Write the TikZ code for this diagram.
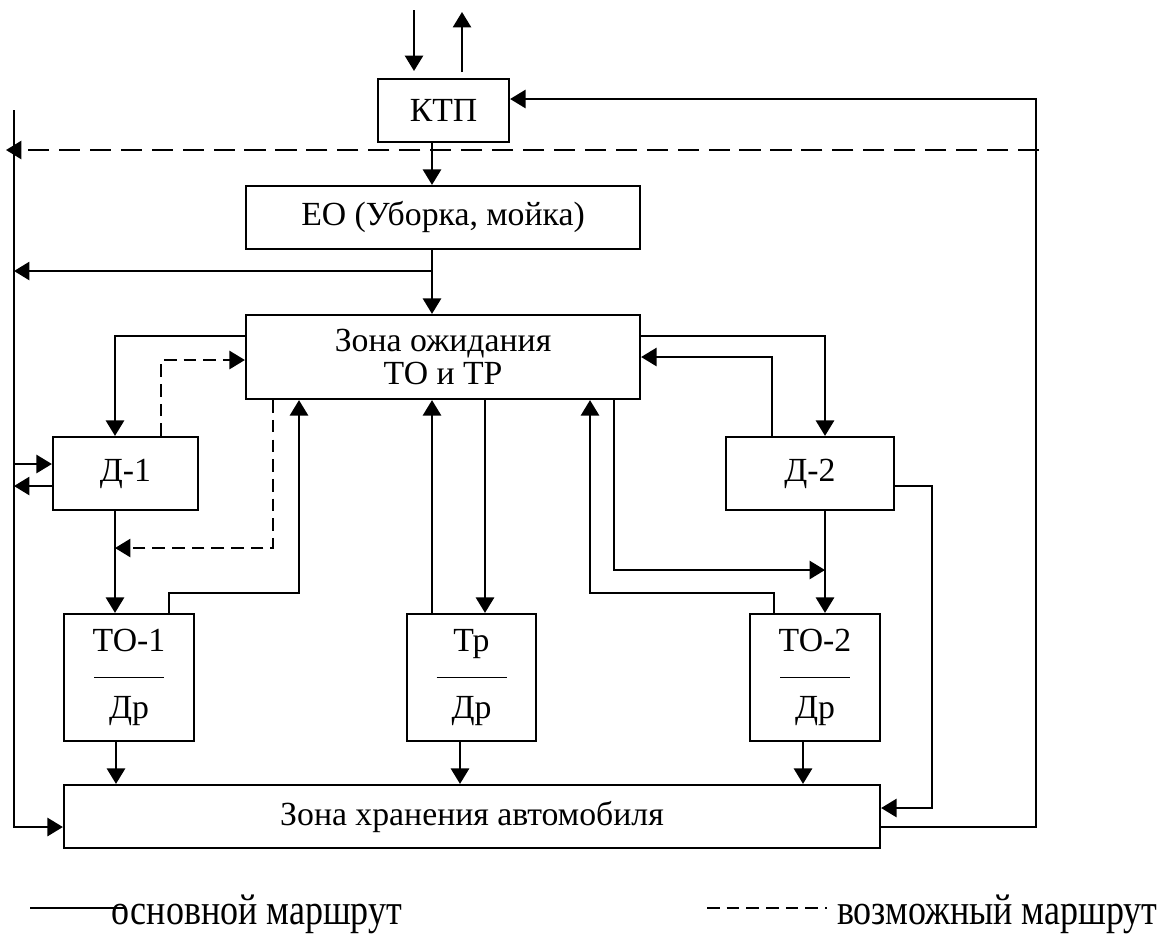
\documentclass[tikz,border=0pt]{standalone}
\usepackage{fontspec}
\setmainfont{Liberation Serif}
\usetikzlibrary{arrows.meta}
\newcommand{\pu}{0.0125cm}

\begin{document}
\begin{tikzpicture}[x=\pu, y=-\pu, >={Triangle[width=6.5pt,length=5.5pt]}, line width=0.7pt,
    blk/.style={draw, line width=0.8pt, inner sep=0pt, font=\fontsize{12}{14}\selectfont},
    split/.style={blk, align=center, font=\fontsize{12}{24}\selectfont},
    maybe/.style={dash pattern=on 4.5pt off 2.5pt},
    lgd/.style={anchor=base west, inner sep=0pt, font=\fontsize{12.8}{15}\selectfont}]
  \useasboundingbox (0,0) rectangle (1173,933);

  % boxes
  \node[blk, minimum width=131*\pu, minimum height=63*\pu] (ktp) at (443.5,110.5) {КТП};
  \node[blk, minimum width=394*\pu, minimum height=63*\pu] (eo) at (443,217.5) {ЕО (Уборка, мойка)};
  \node[blk, minimum width=394*\pu, minimum height=84*\pu, align=center,
        font=\fontsize{12}{11.5}\selectfont] (wait) at (443,357) {Зона ожидания\\ТО и ТР};
  \node[blk, minimum width=145*\pu, minimum height=73*\pu] (d1) at (125.5,473.5) {Д-1};
  \node[blk, minimum width=168*\pu, minimum height=73*\pu] (d2) at (810,473.5) {Д-2};
  \node[split, minimum width=130*\pu, minimum height=127*\pu] (to1) at (129,677.5) {ТО-1\\Др};
  \node[split, minimum width=129*\pu, minimum height=127*\pu] (tr) at (471.5,677.5) {Тр\\Др};
  \node[split, minimum width=130*\pu, minimum height=127*\pu] (to2) at (815,677.5) {ТО-2\\Др};
  \node[blk, minimum width=816*\pu, minimum height=63*\pu] (store) at (472,816.5) {Зона хранения автомобиля};

  \foreach \b in {to1,tr,to2}
    \draw[line width=0.6pt] (\b.center) ++(-35,0) -- ++(70,0);

  % entry and exit
  \coordinate (in1) at (414,10);
  \coordinate (in2) at (414,71);
  \coordinate (out1) at (462,72);
  \coordinate (out2) at (462,12);
  \draw[->] (in1) -- (in2);
  \draw[->] (out1) -- (out2);

  % return line on the right
  \draw[->] (store.east |- 0,827) -| (1036,99) -- (ktp.east |- 0,99);
  \coordinate (dr) at (1039,150);
  \coordinate (dl) at (6,150);
  \draw[->, dash pattern=on 7.5pt off 3.5pt, line width=0.8pt] (dr) -- (dl);

  % left line
  \coordinate (lt) at (14,110);
  \draw[->] (lt) |- (store.west |- 0,827);
  \draw[->] (ktp.south -| 432,0) -- (eo.north -| 432,0);
  \draw[->] (eo.south -| 432,0) -- (wait.north -| 432,0);
  \draw[->] (432,271) -- (14,271);

  % D-1
  \draw[->] (wait.west |- 0,336) -| (d1.north -| 115,0);
  \draw[->, maybe] (d1.north -| 161,0) |- (wait.west |- 0,360);
  \draw[->] (14,464) -- (d1.west |- 0,464);
  \draw[->] (d1.west |- 0,486) -- (14,486);
  \draw[->] (d1.south -| 115,0) -- (to1.north -| 115,0);
  \draw[->, maybe] (wait.south -| 273,0) |- (115,548);
  \draw[->] (to1.north -| 169,0) |- (299,593) -- (wait.south -| 299,0);

  % Tr
  \draw[->] (tr.north -| 432,0) -- (wait.south -| 432,0);
  \draw[->] (wait.south -| 485,0) -- (tr.north -| 485,0);

  % D-2
  \draw[->] (wait.east |- 0,336) -| (d2.north -| 825,0);
  \draw[->] (d2.north -| 772,0) |- (wait.east |- 0,357);
  \draw[->] (d2.south -| 825,0) -- (to2.north -| 825,0);
  \draw[->] (wait.south -| 614,0) |- (825,570);
  \draw[->] (to2.north -| 774,0) |- (590,593) -- (wait.south -| 590,0);
  \draw[->] (d2.east |- 0,486) -| (932,808) -- (store.east |- 0,808);

  % to storage
  \draw[->] (to1.south -| 116,0) -- (store.north -| 116,0);
  \draw[->] (tr.south -| 460,0) -- (store.north -| 460,0);
  \draw[->] (to2.south -| 803,0) -- (store.north -| 803,0);

  % legend
  \coordinate (l1) at (30,908);
  \coordinate (l2) at (124,908);
  \coordinate (l3) at (707,908);
  \coordinate (l4) at (827,908);
  \draw[line width=0.6pt] (l1) -- (l2);
  \draw[line width=0.6pt, maybe] (l3) -- (l4);
  \node[lgd] (lg1) at (111,924) {\scalebox{1}[1.2]{основной маршрут}};
  \node[lgd] (lg2) at (836,924) {\scalebox{1}[1.2]{возможный маршрут}};
\end{tikzpicture}
\end{document}
